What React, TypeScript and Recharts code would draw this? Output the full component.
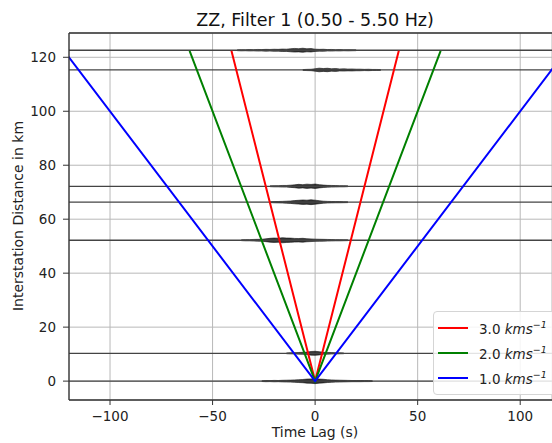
import React from 'react';
import { ComposedChart, Line, Area, XAxis, YAxis, CartesianGrid, ReferenceLine } from 'recharts';

// moveout lines: distance = velocity * |lag|
const velocities = ['3.0', '2.0', '1.0'];
const velocityColors = ['#ff0000', '#008000', '#0000ff'];
const redLags = [-40.8, 0, 40.8];
const greenLags = [-61.2, 0, 61.2];
const blueLags = [-122.4, 0, 122.4];
const moveoutDistances = [122.4, 0, 122.4];

// cross-correlation traces (km) and their burst envelopes (half-width in km)
const traceDistances = [122.6, 115.3, 72.2, 66.3, 52.2, 10.3, 0];
const traceSpan = [-130, 130];
const burstLags = [-40, -38, -36, -34, -32, -30, -28, -26, -24, -22, -20, -18, -16, -14, -12, -10, -8, -6, -4, -2, 0,
  2, 4, 6, 8, 10, 12, 14, 16, 18, 20, 22, 24, 26, 28, 30, 32, 34, 36, 38, 40];
const burst1226 = [0, 0.2, 0.3, 0.25, 0.35, 0.3, 0.4, 0.35, 0.45, 0.4, 0.5, 0.45, 0.6, 0.55, 0.75, 0.9, 0.8, 1.0, 0.75, 0.85, 0.55,
  0.45, 0.5, 0.35, 0.4, 0.3, 0.35, 0.25, 0.3, 0.25, 0.2, 0, 0, 0, 0, 0, 0, 0, 0, 0, 0];
const burst1153 = [0, 0, 0, 0, 0, 0, 0, 0, 0, 0, 0, 0, 0, 0, 0, 0, 0, 0.2, 0.3, 0.35, 0.6,
  0.9, 0.7, 0.85, 0.6, 0.7, 0.5, 0.55, 0.45, 0.5, 0.4, 0.4, 0.3, 0.35, 0.25, 0.25, 0.2, 0, 0, 0, 0];
const burst722 = [0, 0, 0, 0, 0, 0, 0, 0, 0, 0.2, 0.3, 0.3, 0.4, 0.4, 0.55, 0.7, 0.95, 0.8, 1.05, 0.9, 1.1,
  0.8, 0.6, 0.45, 0.4, 0.35, 0.3, 0.3, 0.2, 0, 0, 0, 0, 0, 0, 0, 0, 0, 0, 0, 0];
const burst663 = [0, 0, 0, 0, 0, 0, 0, 0, 0, 0.2, 0.3, 0.35, 0.4, 0.5, 0.6, 0.8, 0.95, 1.1, 1.0, 1.2, 1.0,
  0.75, 0.5, 0.4, 0.35, 0.3, 0.3, 0.25, 0.2, 0, 0, 0, 0, 0, 0, 0, 0, 0, 0, 0, 0];
const burst522 = [0, 0, 0.2, 0.3, 0.3, 0.4, 0.45, 0.5, 0.7, 0.95, 1.1, 1.0, 1.25, 1.1, 1.05, 0.9, 0.85, 0.95, 0.75, 0.65, 0.55,
  0.5, 0.45, 0.4, 0.35, 0.3, 0.3, 0.25, 0.2, 0, 0, 0, 0, 0, 0, 0, 0, 0, 0, 0, 0];
const burst103 = [0, 0, 0, 0, 0, 0, 0, 0, 0, 0, 0, 0, 0, 0.2, 0.3, 0.3, 0.4, 0.5, 0.6, 0.9, 1.0,
  0.8, 0.5, 0.4, 0.35, 0.3, 0.25, 0.2, 0, 0, 0, 0, 0, 0, 0, 0, 0, 0, 0, 0, 0];
const burst0 = [0, 0, 0, 0, 0, 0, 0, 0.2, 0.3, 0.25, 0.35, 0.3, 0.4, 0.45, 0.5, 0.6, 0.7, 0.8, 1.0, 1.1, 1.25,
  1.0, 0.9, 0.7, 0.6, 0.5, 0.45, 0.4, 0.35, 0.3, 0.3, 0.3, 0.25, 0.25, 0.2, 0, 0, 0, 0, 0, 0];
const bursts = [burst1226, burst1153, burst722, burst663, burst522, burst103, burst0];
const burstScale = 0.75;

const xTicks = [-100, -50, 0, 50, 100];
const yTicks = [0, 20, 40, 60, 80, 100, 120];

const FONT = '"DejaVu Sans", sans-serif';
const W = 552;
const H = 443;

const toLine = (lags: number[]) => lags.map((t, i) => ({ t, d: moveoutDistances[i] }));
const moveouts = [toLine(redLags), toLine(greenLags), toLine(blueLags)];

const fmt = (v: number) => String(v).replace('-', '\u2212');

function VelocityLegend() {
  return (
    <div style={{
      position: 'absolute', left: 433, top: 311, width: 130, height: 84, boxSizing: 'border-box',
      background: 'rgba(255,255,255,0.85)', border: '1px solid #d5d5d5', borderRadius: 4,
      fontFamily: FONT, fontSize: 13.5, color: '#222',
    }}>
      {velocities.map((v, i) => (
        <div key={v} style={{ position: 'absolute', left: 4, top: 6 + i * 25, height: 20, display: 'flex', alignItems: 'center' }}>
          <div style={{ width: 30, height: 2, background: velocityColors[i], marginRight: 11 }} />
          <span>
            {v} <i>kms</i><sup style={{ fontSize: 9.5, fontStyle: 'italic' }}>{'\u22121'}</sup>
          </span>
        </div>
      ))}
    </div>
  );
}

export default function App() {
  return (
    <div style={{ position: 'absolute', left: 0, top: 0, width: W, height: H, overflow: 'hidden', background: '#fff', fontFamily: FONT }}>
      <ComposedChart width={W} height={H} margin={{ top: 33, right: 0, bottom: 0, left: 0 }}>
        <CartesianGrid stroke="#b8b8b8" strokeWidth={1} />
        <XAxis
          type="number" dataKey="t" domain={[-120, 115.5]} ticks={xTicks} allowDataOverflow
          height={43} tickSize={5} tickMargin={6} tickFormatter={fmt}
          axisLine={{ stroke: '#333', strokeWidth: 1.3 }} tickLine={{ stroke: '#333' }}
          tick={{ fontSize: 13.5, fill: '#222', fontFamily: FONT }}
        />
        <YAxis
          type="number" domain={[-7, 129]} ticks={yTicks} allowDataOverflow
          width={69} tickSize={6} tickMargin={7}
          axisLine={{ stroke: '#333', strokeWidth: 1.3 }} tickLine={{ stroke: '#333' }}
          tick={{ fontSize: 13.5, fill: '#222', fontFamily: FONT }}
        />
        <ReferenceLine y={129} stroke="#333" strokeWidth={1.3} />
        {traceDistances.map((d, k) => (
          <Line
            key={'base' + k} data={traceSpan.map(t => ({ t, d }))} dataKey="d" type="linear"
            stroke="#444" strokeWidth={1.3} dot={false} activeDot={false} legendType="none" isAnimationActive={false}
          />
        ))}
        {traceDistances.map((d, k) => (
          <Area
            key={'burst' + k}
            data={burstLags.map((t, i) => ({ t, a: bursts[k][i] * burstScale })).filter(p => p.a > 0)
              .map(p => ({ t: p.t, r: [d - p.a, d + p.a] }))}
            dataKey="r" type="linear" stroke="#111" strokeWidth={0.6} fill="#111" fillOpacity={0.85}
            dot={false} activeDot={false} legendType="none" isAnimationActive={false}
          />
        ))}
        {moveouts.map((data, i) => (
          <Line
            key={velocities[i]} data={data} dataKey="d" name={velocities[i]} type="linear"
            stroke={velocityColors[i]} strokeWidth={2} dot={false} activeDot={false} isAnimationActive={false}
          />
        ))}
      </ComposedChart>
      <VelocityLegend />
      <div style={{ position: 'absolute', left: 0, width: 630, top: 10, textAlign: 'center', fontSize: 17.5, color: '#111', lineHeight: '20px' }}>
        ZZ, Filter 1 (0.50 - 5.50 Hz)
      </div>
      <div style={{ position: 'absolute', left: 0, width: 630, top: 424, textAlign: 'center', fontSize: 14, color: '#222', lineHeight: '16px' }}>
        Time Lag (s)
      </div>
      <div style={{
        position: 'absolute', left: 18, top: 216, fontSize: 14, color: '#222', whiteSpace: 'nowrap', lineHeight: '16px',
        transform: 'translate(-50%, -50%) rotate(-90deg)',
      }}>
        Interstation Distance in km
      </div>
    </div>
  );
}
